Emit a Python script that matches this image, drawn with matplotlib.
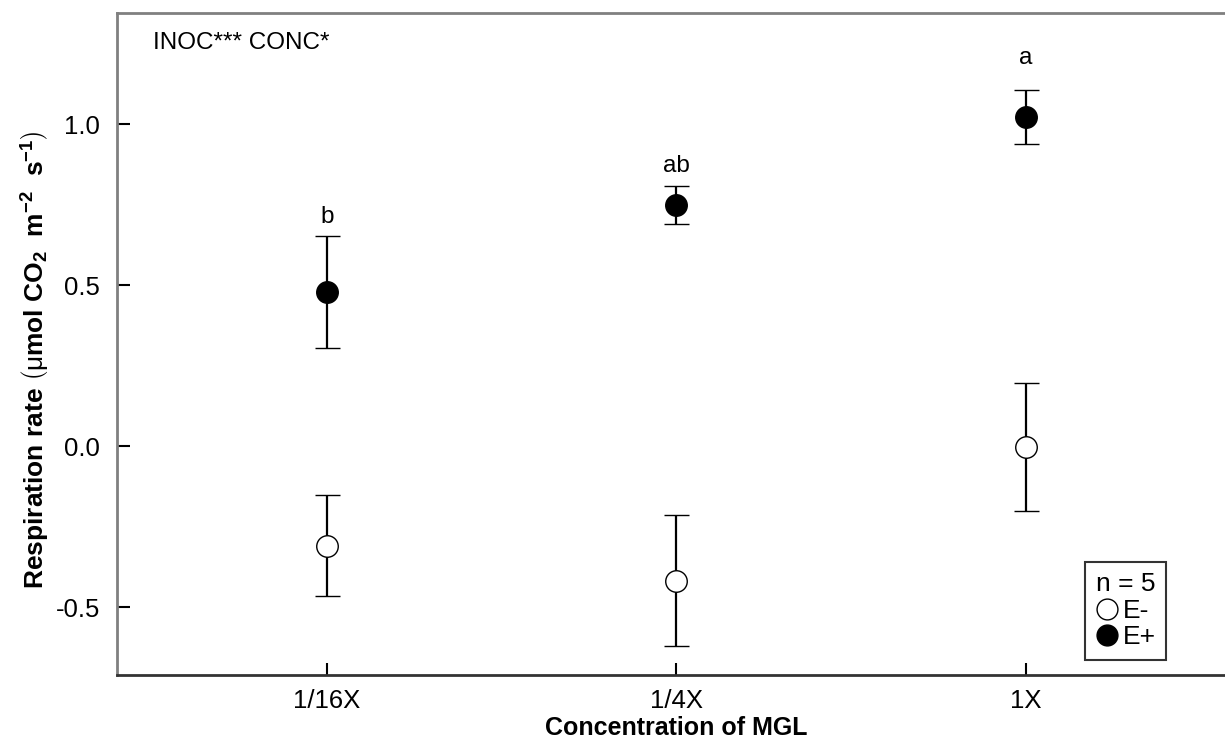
import matplotlib
matplotlib.use("Agg")
import matplotlib.pyplot as plt
from matplotlib.lines import Line2D

plt.rcParams['font.family'] = ['Liberation Sans', 'DejaVu Sans']
plt.rcParams['mathtext.fontset'] = 'custom'
plt.rcParams['mathtext.rm'] = 'Liberation Sans'
plt.rcParams['mathtext.bf'] = 'Liberation Sans:bold'
plt.rcParams['mathtext.it'] = 'Liberation Sans:italic'
plt.rcParams['mathtext.sf'] = 'Liberation Sans'

# ---- data ----
categories = ["1/16X", "1/4X", "1X"]
e_minus_mean = [-0.31, -0.418, -0.003]
e_minus_se = [0.157, 0.203, 0.2]
e_plus_mean = [0.478, 0.748, 1.022]
e_plus_se = [0.174, 0.059, 0.084]
letters = ["b", "ab", "a"]
letter_y = [0.71, 0.87, 1.205]
yticks = [-0.5, 0.0, 0.5, 1.0]
ytick_labels = ["-0.5", "0.0", "0.5", "1.0"]

fig = plt.figure(figsize=(12.25, 7.40), dpi=100)
ax = fig.add_axes([117/1225, 1-675/740, (1236-117)/1225, (675-13)/740])

x = list(range(1, len(categories) + 1))

ax.errorbar(x, e_minus_mean, yerr=e_minus_se, fmt='o', color='black',
            mfc='white', mec='black', ms=15.5, mew=1.0, elinewidth=1.6,
            capsize=9, capthick=1.6, zorder=3)
ax.errorbar(x, e_plus_mean, yerr=e_plus_se, fmt='o', color='black',
            mfc='black', mec='black', ms=15.5, mew=1.0, elinewidth=1.6,
            capsize=9, capthick=1.6, zorder=3)

for xi, lab, ly in zip(x, letters, letter_y):
    ax.text(xi, ly, lab, ha='center', va='center', fontsize=17.5)

ax.text(0.032, 0.955, "INOC*** CONC*", transform=ax.transAxes,
        ha='left', va='center', fontsize=17.5)

ax.set_xlim(0.4, 3.6)
ax.set_ylim(-0.711, 1.345)
ax.set_xticks(x)
ax.set_xticklabels(categories, fontsize=18.5)
ax.set_yticks(yticks)
ax.set_yticklabels(ytick_labels, fontsize=18.5)
ax.tick_params(axis='both', direction='in', length=9, width=1.5)
ax.tick_params(axis='x', pad=10)
ax.tick_params(axis='y', pad=12)

ax.spines['left'].set_color('#808080')
ax.spines['top'].set_color('#808080')
ax.spines['bottom'].set_color('#333333')
ax.spines['right'].set_color('#808080')
for s in ax.spines.values():
    s.set_linewidth(2)

ax.set_xlabel("Concentration of MGL", fontsize=18, fontweight='bold')
ax.xaxis.set_label_coords(0.5, -0.0975)
ax.xaxis.label.set_va('bottom')
ax.set_ylabel(r"Respiration rate $\left(\mathrm{μ}\mathbf{mol\ CO_2\ \ m^{-2}\ \ s^{-1}}\right)$",
              fontsize=19, fontweight='bold')
ax.yaxis.set_label_coords(-0.058, 0.476)

handles = [
    Line2D([], [], ls='none', marker='o', mfc='white', mec='black', ms=15, mew=1.0),
    Line2D([], [], ls='none', marker='o', mfc='black', mec='black', ms=15, mew=1.0),
]
leg = ax.legend(handles, ["E-", "E+"], title="n = 5", loc='lower right',
                bbox_to_anchor=(1166/1225, 1-660/740), bbox_transform=fig.transFigure,
                borderaxespad=0, fontsize=19, title_fontsize=19, frameon=True,
                fancybox=False, edgecolor='black', handlelength=0.8,
                handletextpad=0.2, labelspacing=0.1, borderpad=0.4)
leg.get_frame().set_linewidth(1.5)

fig.savefig("out.png", dpi=100)
